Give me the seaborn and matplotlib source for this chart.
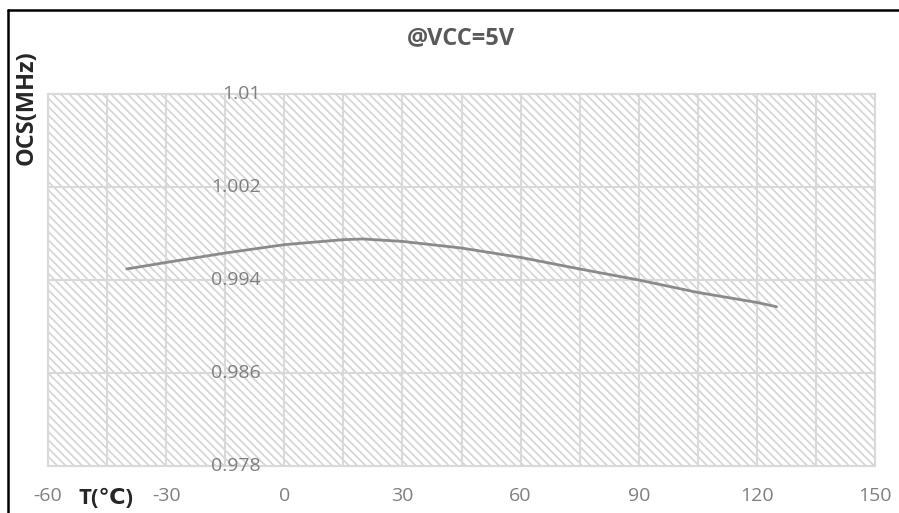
import matplotlib
matplotlib.use('Agg')
import matplotlib.pyplot as plt
import seaborn as sns
import numpy as np
import pandas as pd
from matplotlib.patches import Rectangle
from matplotlib.lines import Line2D

# данные
temps = [-40, -30, -15, 0, 15, 20, 30, 45, 60, 75, 90, 105, 120, 125]
freqs = [0.99495, 0.99551, 0.99632, 0.99704, 0.99747, 0.99753, 0.99732,
         0.99675, 0.99594, 0.99495, 0.99400, 0.99293, 0.99207, 0.99170]
x_ticks = [-60, -30, 0, 30, 60, 90, 120, 150]
x_grid = list(range(-60, 151, 15))
y_ticks = [0.978, 0.986, 0.994, 1.002, 1.01]
y_labels = ['0.978', '0.986', '0.994', '1.002', '1.01']

sns.set_theme(style='white')
plt.rcParams['font.family'] = ['Open Sans', 'DejaVu Sans']
plt.rcParams['axes.unicode_minus'] = False
plt.rcParams['hatch.linewidth'] = 1.2

df = pd.DataFrame({'T': temps, 'F': freqs})

fig = plt.figure(figsize=(8.99, 5.13), dpi=100)
ax = fig.add_axes([48 / 899, 1 - 466 / 513, 827 / 899, 372 / 513])
ax.set_facecolor('white')

# штриховка фона области построения
ax.add_patch(Rectangle((0, 0), 1, 1, transform=ax.transAxes, facecolor='none',
                       edgecolor='#d4d4d4', hatch='\\\\\\\\', lw=0, zorder=0))

sns.lineplot(data=df, x='T', y='F', ax=ax, color='#8a8a8a', linewidth=2.0, zorder=3)

ax.set_xlim(-60, 150)
ax.set_ylim(0.978, 1.01)
ax.set_xticks(x_ticks)
ax.set_xticks(x_grid, minor=True)
ax.set_yticks(y_ticks)
ax.set_yticklabels([])
ax.tick_params(axis='both', which='both', length=0)
ax.tick_params(axis='x', labelsize=14, labelcolor='#7f7f7f', pad=15)
ax.grid(True, which='both', axis='x', color='#d9d9d9', lw=1.5, zorder=1)
ax.grid(True, which='major', axis='y', color='#d9d9d9', lw=1.5, zorder=1)
ax.set_axisbelow(True)
for s in ax.spines.values():
    s.set_color('#d9d9d9')
    s.set_linewidth(1.5)
ax.set_xlabel('')
ax.set_ylabel('')

# подписи оси Y внутри области построения
for yv, lab in zip(y_ticks, y_labels):
    ax.text(-6, yv, lab, ha='right', va='center', fontsize=14, color='#7f7f7f', zorder=4)

fig.text(461 / 899, 1 - 38 / 513, '@VCC=5V', ha='center', va='center',
         fontsize=17, fontweight='bold', color='#595959')
fig.text(27 / 899, 1 - 108 / 513, 'OCS(MHz)', ha='center', va='center', rotation=90,
         fontsize=17, fontweight='bold', color='#262626')
fig.text(106 / 899, 1 - 498 / 513, 'T(℃)', ha='center', va='center',
         fontsize=16, fontweight='bold', color='#262626')

# рамка
fig.add_artist(Line2D([8 / 899, 1], [1 - 10 / 513, 1 - 10 / 513], color='black', lw=1.8))
fig.add_artist(Line2D([8 / 899, 8 / 899], [0, 1 - 10 / 513], color='black', lw=1.8))

plt.savefig('out.png', dpi=100)
plt.close()
